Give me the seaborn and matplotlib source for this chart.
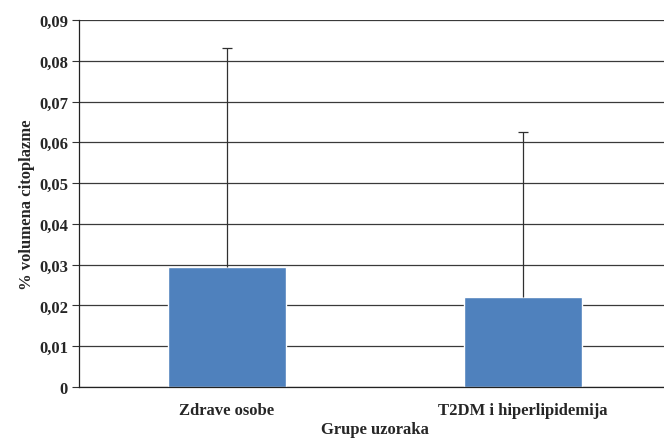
import matplotlib
matplotlib.use("Agg")
import matplotlib.pyplot as plt
import seaborn as sns
import pandas as pd
import numpy as np

categories = ["Zdrave osobe", "T2DM i hiperlipidemija"]
values = [0.0294, 0.0221]
err_upper = [0.0537, 0.0405]
yticks = [0, 0.01, 0.02, 0.03, 0.04, 0.05, 0.06, 0.07, 0.08, 0.09]
ytick_labels = ["0", "0,01", "0,02", "0,03", "0,04", "0,05", "0,06", "0,07", "0,08", "0,09"]

sns.set_theme(style="white")
plt.rcParams["font.family"] = ["Liberation Serif", "DejaVu Serif"]
plt.rcParams["font.weight"] = "bold"

fig = plt.figure(figsize=(6.64, 4.39), dpi=100)
ax = fig.add_axes([79 / 664, 51 / 439, 592 / 664, 367 / 439])

df = pd.DataFrame({"cat": categories, "val": values})
sns.barplot(data=df, x="cat", y="val", color="#4F81BD", width=0.4,
            errorbar=None, ax=ax, saturation=1, zorder=2)

eb = ax.errorbar(x=np.arange(len(values)), y=values,
                 yerr=[np.zeros(len(values)), err_upper], fmt="none",
                 ecolor="#303030", elinewidth=0.9, capsize=3.5, capthick=0.9, zorder=3)
# hide the caps at the bar tops (lower side has zero length)
eb[1][0].set_visible(False)

ax.set_xlim(-0.5, len(categories) - 0.5)
ax.set_ylim(0, 0.09)
ax.set_yticks(yticks)
ax.set_yticklabels(ytick_labels, fontsize=12, fontweight="bold")
ax.yaxis.grid(True, color="#3a3a3a", linewidth=0.9, zorder=0)
ax.set_axisbelow(True)

ax.set_xticks(range(len(categories)))
ax.set_xticklabels(categories, fontsize=12, fontweight="bold")
ax.set_xticks(np.arange(-0.5, len(categories)), minor=True)
ax.tick_params(axis="x", which="major", length=0, pad=11)
ax.tick_params(axis="x", which="minor", length=5, width=0.8, color="#333333", direction="out")
ax.tick_params(axis="y", which="major", length=5, width=0.8, color="#333333", direction="out", left=True, pad=3)

for s in ["top", "right"]:
    ax.spines[s].set_visible(False)
for s in ["left", "bottom"]:
    ax.spines[s].set_color("#222222")
    ax.spines[s].set_linewidth(0.9)

ax.set_xlabel("Grupe uzoraka", fontsize=12, fontweight="bold", labelpad=2)
ax.set_ylabel("% volumena citoplazme", fontsize=12, fontweight="bold", labelpad=3)

fig.savefig("out.png", dpi=100)
